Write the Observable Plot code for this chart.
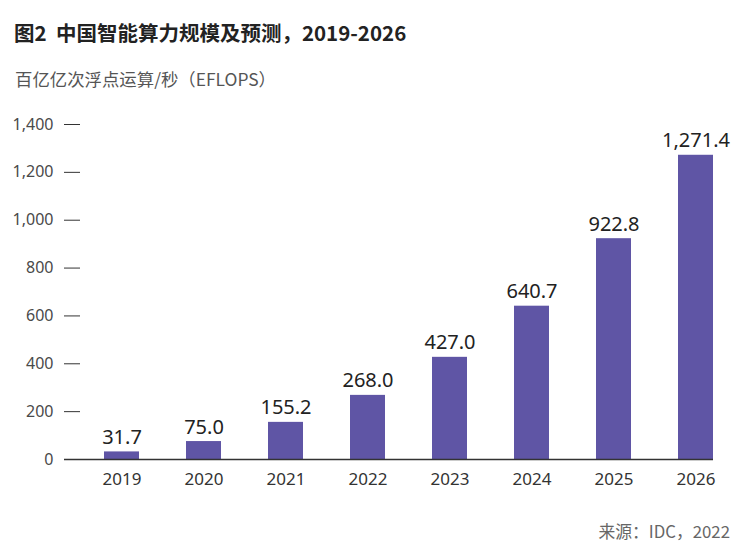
<!DOCTYPE html>
<html>
<head>
<meta charset="utf-8">
<script src="https://cdn.jsdelivr.net/npm/d3@7"></script>
<script src="https://cdn.jsdelivr.net/npm/@observablehq/plot@0.6"></script>
<style>
  html, body { margin: 0; padding: 0; background: #fff; }
  #wrap { position: relative; width: 747px; height: 558px; font-family: "Noto Sans CJK SC", "Noto Sans", sans-serif; }
  #title { position: absolute; left: 14px; top: 22px; font-size: 20.5px; line-height: 21px; font-weight: 700; color: #222; white-space: pre; }
  #subtitle { position: absolute; left: 15px; top: 70px; font-size: 17.4px; line-height: 18px; color: #555; white-space: pre; }
  #chart { position: absolute; left: 0; top: 100px; }
  #caption { position: absolute; right: 17px; top: 523px; font-size: 16.8px; line-height: 17px; color: #666; white-space: pre; }
</style>
</head>
<body>
<div id="wrap">
  <div id="title">图2  中国智能算力规模及预测，2019-2026</div>
  <div id="subtitle">百亿亿次浮点运算/秒（EFLOPS）</div>
  <div id="chart"></div>
  <div id="caption">来源：IDC，2022</div>
</div>
<script>
const years = ["2019", "2020", "2021", "2022", "2023", "2024", "2025", "2026"];
const values = [31.7, 75.0, 155.2, 268.0, 427.0, 640.7, 922.8, 1271.4];
const yTicks = [0, 200, 400, 600, 800, 1000, 1200, 1400];

const data = years.map((year, i) => ({year, value: values[i]}));

const chart = Plot.plot({
  width: 747,
  height: 400,
  marginTop: 24,
  marginBottom: 41,
  marginLeft: 64,
  marginRight: 34,
  style: {fontFamily: "'Noto Sans', sans-serif", fontSize: "16px", background: "#fff"},
  x: {domain: years, paddingInner: 0.575, paddingOuter: 0.2246, align: 1, label: null},
  y: {domain: [0, 1400], label: null},
  marks: [
    Plot.axisY({ticks: yTicks, tickSize: -16, tickPadding: 27, tickFormat: d3.format(","), stroke: "#333", fill: "#4a4a4a", fontSize: 16}),
    Plot.axisX({tickSize: 0, tickPadding: 13, fill: "#333", fontSize: 17}),
    Plot.barY(data, {x: "year", y: "value", fill: "#5f55a5"}),
    Plot.ruleY([0], {stroke: "#333", strokeWidth: 1.5}),
    Plot.text(data, {x: "year", y: "value", text: d => d3.format(",.1f")(d.value), dy: -8, lineAnchor: "bottom", fontSize: 20, fill: "#222"})
  ]
});
document.getElementById("chart").appendChild(chart);
</script>
</body>
</html>
